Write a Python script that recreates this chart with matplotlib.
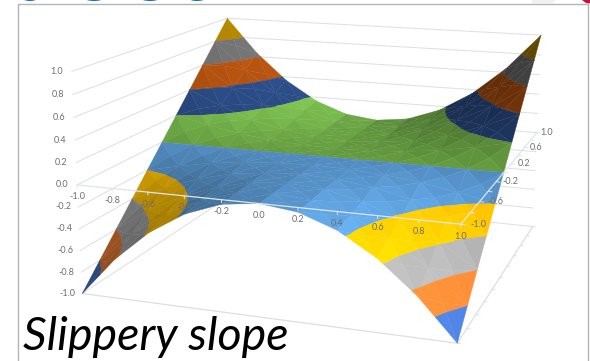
#!/usr/bin/env python3
import matplotlib
matplotlib.use('Agg')
import matplotlib.pyplot as plt
import numpy as np
from matplotlib.patches import Ellipse, Polygon, Rectangle
from mpl_toolkits.mplot3d import proj3d
from mpl_toolkits.mplot3d.art3d import Poly3DCollection

W, H = 590, 361

x_vals = [-1.0, -0.8, -0.6, -0.4, -0.2, 0.0, 0.2, 0.4, 0.6, 0.8, 1.0]
y_vals = [-1.0, -0.8, -0.6, -0.4, -0.2, 0.0, 0.2, 0.4, 0.6, 0.8, 1.0]

# surface heights, one row per y value
z_rows = [
    [-1.00, -0.64, -0.36, -0.16, -0.04, 0.00, -0.04, -0.16, -0.36, -0.64, -1.00],
    [-0.80, -0.51, -0.29, -0.13, -0.03, 0.00, -0.03, -0.13, -0.29, -0.51, -0.80],
    [-0.60, -0.38, -0.22, -0.10, -0.02, 0.00, -0.02, -0.10, -0.22, -0.38, -0.60],
    [-0.40, -0.26, -0.14, -0.06, -0.02, 0.00, -0.02, -0.06, -0.14, -0.26, -0.40],
    [-0.20, -0.13, -0.07, -0.03, -0.01, 0.00, -0.01, -0.03, -0.07, -0.13, -0.20],
    [0.00, 0.00, 0.00, 0.00, 0.00, 0.00, 0.00, 0.00, 0.00, 0.00, 0.00],
    [0.20, 0.13, 0.07, 0.03, 0.01, 0.00, 0.01, 0.03, 0.07, 0.13, 0.20],
    [0.40, 0.26, 0.14, 0.06, 0.02, 0.00, 0.02, 0.06, 0.14, 0.26, 0.40],
    [0.60, 0.38, 0.22, 0.10, 0.02, 0.00, 0.02, 0.10, 0.22, 0.38, 0.60],
    [0.80, 0.51, 0.29, 0.13, 0.03, 0.00, 0.03, 0.13, 0.29, 0.51, 0.80],
    [1.00, 0.64, 0.36, 0.16, 0.04, 0.00, 0.04, 0.16, 0.36, 0.64, 1.00],
]

band_edges = [-1.0, -0.8, -0.6, -0.4, -0.2, 0.0, 0.2, 0.4, 0.6, 0.8, 1.0]
band_colors = ['#4472C4', '#ED7D31', '#A5A5A5', '#FFC000', '#5B9BD5',
               '#70AD47', '#264478', '#9E480E', '#636363', '#997300']

z_ticks = [1.0, 0.8, 0.6, 0.4, 0.2, 0.0, -0.2, -0.4, -0.6, -0.8, -1.0]
x_ticks = [-1.0, -0.8, -0.6, -0.4, -0.2, 0.0, 0.2, 0.4, 0.6, 0.8, 1.0]
y_ticks = [-1.0, -0.6, -0.2, 0.2, 0.6, 1.0]

GRID = '#DEDEDE'
LABEL = '#6E6E6E'
plt.rcParams['font.family'] = ['Lato', 'DejaVu Sans']


def clip_z(poly, level, keep_above):
    out = []
    for i in range(len(poly)):
        a, b = poly[i], poly[(i + 1) % len(poly)]
        ina = a[2] >= level if keep_above else a[2] <= level
        inb = b[2] >= level if keep_above else b[2] <= level
        if ina:
            out.append(a)
        if ina != inb:
            t = (level - a[2]) / (b[2] - a[2])
            out.append(a + t * (b - a))
    return out


def shade(color, tri):
    # brighter for facets tilted towards +x
    n = np.cross(tri[1] - tri[0], tri[2] - tri[0])
    n = n / np.linalg.norm(n)
    if n[2] < 0:
        n = -n
    b = 0.90 + 0.36 * n[0]
    return np.clip(np.array(matplotlib.colors.to_rgb(color)) * b, 0, 1)


def build_facets():
    polys, cols = [], []
    z = np.array(z_rows)
    for j in range(len(y_vals) - 1):
        for i in range(len(x_vals) - 1):
            corners = [np.array([x_vals[i], y_vals[j], z[j, i]]),
                       np.array([x_vals[i + 1], y_vals[j], z[j, i + 1]]),
                       np.array([x_vals[i + 1], y_vals[j + 1], z[j + 1, i + 1]]),
                       np.array([x_vals[i], y_vals[j + 1], z[j + 1, i]])]
            mid = np.mean(corners, axis=0)
            # four triangles around the middle of each cell
            for k in range(4):
                tri = [corners[k], corners[(k + 1) % 4], mid]
                for lo, hi, c in zip(band_edges[:-1], band_edges[1:], band_colors):
                    p = clip_z(tri, lo, True)
                    if len(p) >= 3:
                        p = clip_z(p, hi, False)
                    if len(p) < 3:
                        continue
                    if max(q[2] for q in p) - min(q[2] for q in p) < 1e-9:
                        continue
                    polys.append(np.array(p))
                    cols.append(shade(c, tri))
    return polys, cols


fig = plt.figure(figsize=(W / 100, H / 100), dpi=100, facecolor='white')

# slide furniture behind the chart
ov = fig.add_axes([0, 0, 1, 1], zorder=-1)
ov.set_xlim(0, W)
ov.set_ylim(H, 0)
ov.axis('off')
ov.add_patch(Rectangle((18, 4), 570, 400, fill=False, ec='#B4B4B4', lw=1.0))
for cx, wd in [(30, 14), (94, 18), (150, 18), (197, 16)]:
    ov.add_patch(Ellipse((cx, -1.5), wd, 5, fc='#0B72C4', ec='none'))
ov.add_patch(Polygon([(532, 0), (556, 0), (552, 3.5), (532, 3.5)], fc='#F0F0F0', ec='none'))
ov.add_patch(Polygon([(582, 0), (590, 0), (590, 3.5), (586, 3)], fc='#C8103C', ec='none'))

s = 2869.05
side = s * 0.185
left = 325.28 - s * 0.095
bottom = H - (156.68 + s * 0.095)
ax = fig.add_axes([left / W, bottom / H, side / W, side / H], projection='3d')
ax.computed_zorder = False
ax.patch.set_alpha(0)
ax.view_init(elev=14.37, azim=-70.81, roll=-0.12)
ax.set_proj_type('persp', focal_length=0.4517)
ax.set_box_aspect((1, 0.9726, 0.5873))

# walls and floor
for zv in z_ticks:
    ax.plot([-1, -1, 1], [-1, 1, 1], [zv, zv, zv], color=GRID, lw=0.7, zorder=1)
ax.plot([-1, 1, 1], [-1, -1, 1], [-1, -1, -1], color=GRID, lw=0.9, zorder=1)
for yv in y_vals:
    ax.plot([1, 1.015], [yv, yv], [-1, -1], color=GRID, lw=0.7, zorder=1)

polys, cols = build_facets()
surf = Poly3DCollection(polys, facecolors=cols, edgecolors=cols, linewidths=0.25, zorder=2)
ax.add_collection3d(surf)

# axes lying at z = 0, over the surface
ax.plot([-1, 1, 1], [-1, -1, 1], [0, 0, 0], color='#DDE6EE', lw=0.9, zorder=3)
for xv in x_ticks:
    ax.plot([xv, xv], [-1, -1], [0, -0.025], color='#DDE6EE', lw=0.7, zorder=3)
for yv in y_vals:
    ax.plot([1, 1.02], [yv, yv], [0, 0], color='#DDE6EE', lw=0.7, zorder=3)

ax.set_xlim(-1, 1, view_margin=0)
ax.set_ylim(-1, 1, view_margin=0)
ax.set_zlim(-1, 1, view_margin=0)
ax.set_axis_off()


def tick_label(x, y, z, text, dx, dy):
    # place by the 3d projection, then shift by pixels
    u, v, _ = proj3d.proj_transform(x, y, z, ax.get_proj())
    ax.annotate(text, (u, v), xytext=(dx, dy), textcoords='offset pixels', color=LABEL,
                fontsize=6.5, ha='center', va='center', zorder=4, annotation_clip=False)


for zv in z_ticks:
    tick_label(-1, -1, zv, '%.1f' % zv, -15, 0)
for xv in x_ticks:
    tick_label(xv, -1, 0, '%.1f' % xv, 0, -12)
for yv in y_ticks:
    tick_label(1, yv, 0, '%.1f' % yv, 14 - 4 * yv, 0)

fig.text(23 / W, 1 - 350 / H, 'Slippery slope', fontsize=33.5, style='italic', color='black',
         ha='left', va='baseline', zorder=5)

fig.savefig('out.png', dpi=100)
